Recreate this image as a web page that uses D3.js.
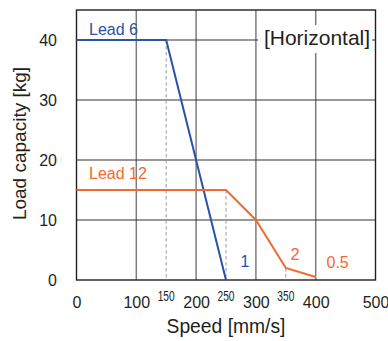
<!DOCTYPE html>
<html><head><meta charset="utf-8">
<script src="https://cdn.jsdelivr.net/npm/d3@7"></script>
<style>body{margin:0;background:#fff}svg{display:block}text{font-family:"Liberation Sans",Arial,sans-serif}</style>
</head><body><div id="c"></div>
<script>
const xTicks = [0,100,200,300,400,500];
const yTicks = [0,10,20,30,40];
const lead6Speed = [0,150,250];
const lead6Load = [40,40,0];
const lead12Speed = [0,250,300,350,400];
const lead12Load = [15,15,10,2,0.5];
const markSpeeds = [150,250,350];
const markTops = [40,15,2];

const W=388,H=341;
const svg=d3.select("#c").append("svg").attr("width",W).attr("height",H);
const x=d3.scaleLinear().domain([0,500]).range([76.5,375.5]);
const y=d3.scaleLinear().domain([0,45]).range([280,10]);
const blue="#2853a8", orange="#f26a2e", ink="#231f20";

// grid
svg.append("g").selectAll("line").data(xTicks.slice(1,-1)).join("line")
 .attr("x1",d=>x(d)).attr("x2",d=>x(d)).attr("y1",y(45)).attr("y2",y(0))
 .attr("stroke","#7d7d7d").attr("stroke-width",1.5);
svg.append("g").selectAll("line").data(yTicks.slice(1)).join("line")
 .attr("x1",x(0)).attr("x2",x(500)).attr("y1",d=>y(d)).attr("y2",d=>y(d))
 .attr("stroke","#333").attr("stroke-width",1.2);
// dashed
svg.append("g").selectAll("line").data(markSpeeds).join("line")
 .attr("x1",d=>x(d)).attr("x2",d=>x(d)).attr("y1",(d,i)=>y(markTops[i])).attr("y2",y(0))
 .attr("stroke","#9a9a9a").attr("stroke-width",1).attr("stroke-dasharray","3.5,2.5");
// frame
svg.append("rect").attr("x",x(0)).attr("y",y(45)).attr("width",x(500)-x(0)).attr("height",y(0)-y(45))
 .attr("fill","none").attr("stroke",ink).attr("stroke-width",1.4);

// label box
svg.append("rect").attr("x",258).attr("y",25).attr("width",114).attr("height",28).attr("fill","#fff");
svg.append("text").attr("x",317).attr("y",45).attr("text-anchor","middle").attr("font-size",21).attr("fill",ink).text("[Horizontal]");

const line=d3.line().x(d=>x(d[0])).y(d=>y(d[1]));
svg.append("path").datum(lead6Speed.map((s,i)=>[s,lead6Load[i]])).attr("d",line)
 .attr("fill","none").attr("stroke",blue).attr("stroke-width",2);
svg.append("path").datum(lead12Speed.map((s,i)=>[s,lead12Load[i]])).attr("d",line)
 .attr("fill","none").attr("stroke",orange).attr("stroke-width",2);

// axes labels
const xa=d3.axisBottom(x).tickValues(xTicks).tickSize(0).tickPadding(0);
const gx=svg.append("g").attr("transform",`translate(0,${y(0)})`).call(xa);
gx.select(".domain").remove();
gx.selectAll("text").attr("y",27.5).attr("dy",null).attr("font-size",16).attr("fill",ink);
const ya=d3.axisLeft(y).tickValues(yTicks).tickSize(0).tickPadding(0);
const gy=svg.append("g").attr("transform",`translate(${x(0)},0)`).call(ya);
gy.select(".domain").remove();
gy.selectAll("text").attr("x",-19.5).attr("font-size",16).attr("fill",ink);

svg.append("g").selectAll("text").data(markSpeeds).join("text")
 .attr("x",d=>x(d)-8.5).attr("y",301).attr("font-size",14).attr("fill",ink)
 .attr("textLength",17).attr("lengthAdjust","spacingAndGlyphs").text(d=>d);

svg.append("text").attr("x",226).attr("y",333).attr("text-anchor","middle").attr("font-size",19.3).attr("fill",ink).text("Speed [mm/s]");
svg.append("text").attr("transform","translate(25.5,143.5) rotate(-90)").attr("text-anchor","middle").attr("font-size",19).attr("fill",ink).text("Load capacity [kg]");

svg.append("text").attr("x",89).attr("y",35).attr("font-size",16).attr("fill",blue).text("Lead 6");
svg.append("text").attr("x",89).attr("y",179).attr("font-size",16).attr("fill",orange).text("Lead 12");
svg.append("text").attr("x",240.5).attr("y",266.5).attr("font-size",16).attr("fill",blue).text("1");
svg.append("text").attr("x",290.5).attr("y",259.5).attr("font-size",16.5).attr("fill",orange).text("2");
svg.append("text").attr("x",326.5).attr("y",268.3).attr("font-size",16).attr("fill",orange).text("0.5");
</script></body></html>
